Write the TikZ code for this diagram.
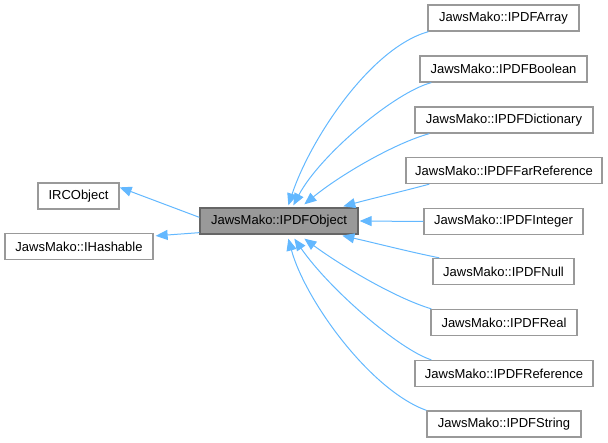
\documentclass[tikz,border=0pt]{standalone}
\usepackage{fontspec}
\setmainfont{Liberation Sans}
\usetikzlibrary{arrows.meta}
\definecolor{edgeblue}{HTML}{63B8FF}
\definecolor{boxgray}{HTML}{999999}
\definecolor{darkgray}{HTML}{666666}
\begin{document}
\begin{tikzpicture}[x=1pt,y=-1pt,
  cls/.style={draw=boxgray,line width=1.3pt,fill=white,inner sep=0pt,minimum height=26pt,font=\fontsize{13}{15}\selectfont},
  cur/.style={cls,fill=boxgray,draw=darkgray},
  edge/.style={draw=edgeblue,line width=1pt,-{Triangle[length=12pt,width=10pt]}}]
\useasboundingbox (0,0) rectangle (608,443);
\node[cur,minimum width=158pt] (obj) at (279,221) {JawsMako::IPDFObject};
\node[cls,minimum width=81pt] (rco) at (78.5,196) {IRCObject};
\node[cls,minimum width=148pt] (hash) at (79,246.5) {JawsMako::IHashable};
\node[cls,minimum width=151pt] (arr) at (503.5,18) {JawsMako::IPDFArray};
\node[cls,minimum width=167pt] (bool) at (503.5,69) {JawsMako::IPDFBoolean};
\node[cls,minimum width=178pt] (dict) at (504,120) {JawsMako::IPDFDictionary};
\node[cls,minimum width=196pt] (far) at (504,170.5) {JawsMako::IPDFFarReference};
\node[cls,minimum width=159pt] (int) at (503.5,221.5) {JawsMako::IPDFInteger};
\node[cls,minimum width=141pt] (null) at (503.5,271.5) {JawsMako::IPDFNull};
\node[cls,minimum width=146pt] (real) at (504,322.5) {JawsMako::IPDFReal};
\node[cls,minimum width=178pt] (ref) at (504,373.5) {JawsMako::IPDFReference};
\node[cls,minimum width=154pt] (str) at (504,424) {JawsMako::IPDFString};
% inheritance to the left
\draw[edge] ([yshift=-10pt]obj.north west) -- ([yshift=-5pt]rco.north east);
\draw[edge] ([yshift=2pt]obj.south west) -- ([xshift=2pt,yshift=-3pt]hash.north east);
% children
\draw[edge] ([xshift=1pt]arr.south west) .. controls (370,48) and (310,140) .. ([xshift=89pt,yshift=2pt]obj.north west);
\draw[edge] ([xshift=12pt]bool.south west) .. controls (395,92) and (320,155) .. ([xshift=94pt,yshift=2pt]obj.north west);
\draw[edge] ([xshift=15pt]dict.south west) .. controls (395,143) and (340,175) .. ([xshift=105pt,yshift=3pt]obj.north west);
\draw[edge] ([xshift=24pt]far.south west) .. controls (400,192) and (370,199) .. ([xshift=144pt,yshift=1pt]obj.north west);
\draw[edge] (int.west) -- ([xshift=1pt]obj.east);
\draw[edge] ([xshift=7pt]null.north west) .. controls (410,252) and (375,243) .. ([xshift=143pt,yshift=-1pt]obj.south west);
\draw[edge] ([xshift=1pt]real.north west) .. controls (395,298) and (340,265) .. ([xshift=105pt,yshift=-4pt]obj.south west);
\draw[edge] ([xshift=17pt]ref.north west) .. controls (400,350) and (330,290) .. ([xshift=95pt,yshift=-4pt]obj.south west);
\draw[edge] (str.north west) .. controls (370,390) and (305,300) .. ([xshift=89pt,yshift=-4pt]obj.south west);
\end{tikzpicture}
\end{document}
